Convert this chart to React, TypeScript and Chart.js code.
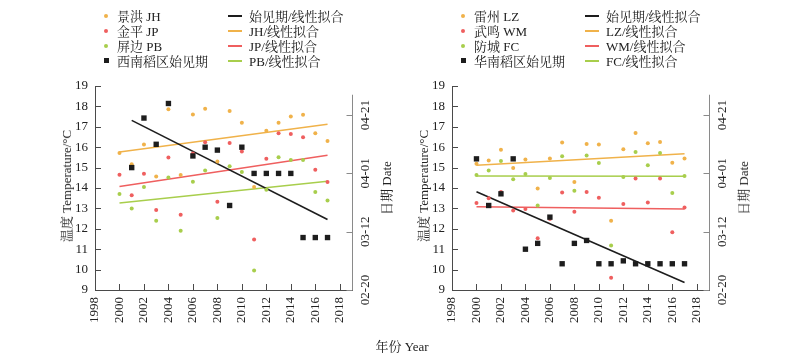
import React, { useEffect, useRef } from 'react';
import { Chart, registerables } from 'chart.js';

Chart.register(...registerables);

// ---------- data ----------
const years = [2000, 2001, 2002, 2003, 2004, 2005, 2006, 2007, 2008, 2009, 2010, 2011, 2012, 2013, 2014, 2015, 2016, 2017];
const xTickYears = [1998, 2000, 2002, 2004, 2006, 2008, 2010, 2012, 2014, 2016, 2018];
const tempTicks = [9, 10, 11, 12, 13, 14, 15, 16, 17, 18, 19];
// date axis: days after 02-20
const dateTickDays = [0, 20, 40, 60];
const dateTickLabels = ['02-20', '03-12', '04-01', '04-21'];

// Left panel (西南稻区)
const jhTemp = [15.72, 15.16, 16.13, 14.56, 17.86, 14.64, 17.6, 17.88, 15.3, 17.78, 17.2, 14.05, 16.81, 17.2, 17.51, 17.59, 16.68, 16.31];
const jpTemp = [14.65, 13.65, 14.7, 12.92, 15.5, 12.69, 15.69, 16.24, 13.32, 16.21, 15.79, 11.47, 15.43, 16.68, 16.65, 16.49, 14.9, 14.3];
const pbTemp = [13.71, 13.0, 14.05, 12.4, 14.51, 11.91, 14.31, 14.86, 12.53, 15.07, 14.78, 9.96, 13.91, 15.51, 15.37, 15.37, 13.81, 13.39];
const swOnsetDays = [null, 42, 59, 50, 64, null, 46, 49, 48, 29, 49, 40, 40, 40, 40, 18, 18, 18];
const swOnsetFitYears = [2001, 2017];
const swOnsetFit = [58.2, 24.2];
const tempFitYears = [2000, 2017];
const jhFit = [15.76, 17.12];
const jpFit = [14.07, 15.61];
const pbFit = [13.26, 14.33];

// Right panel (华南稻区)
const lzTemp = [15.19, 15.35, 15.87, 14.98, 15.4, 13.97, 15.45, 16.23, 14.3, 16.16, 16.13, 12.4, 15.9, 16.7, 16.19, 16.26, 15.24, 15.45];
const wmTemp = [13.27, 13.5, 13.81, 12.9, 12.97, 11.54, 12.48, 13.78, 12.84, 13.81, 13.52, 9.6, 13.21, 14.47, 13.29, 14.46, 11.83, 13.05];
const fcTemp = [14.64, 14.86, 15.32, 14.43, 14.69, 13.14, 14.49, 15.56, 13.86, 15.59, 15.22, 11.18, 14.54, 15.77, 15.12, 15.72, 13.76, 14.59];
const scOnsetDays = [45, 29, 33, 45, 14, 16, 25, 9, 16, 17, 9, 9, 10, 9, 9, 9, 9, 9];
const scOnsetFitYears = [2000, 2017];
const scOnsetFit = [33.7, 2.6];
const lzFit = [15.11, 15.68];
const wmFit = [13.08, 12.97];
const fcFit = [14.59, 14.58];

// ---------- styles ----------
const ORANGE = '#F0B24A';
const RED = '#EF5F5F';
const GREEN = '#A8CE4C';
const BLACK = '#1d1d1d';
const AXIS = '#4a4a4a';
const AXIS2 = '#8a8a8a';
const FONT = "'Liberation Serif', 'Noto Serif CJK SC', 'Noto Sans CJK SC', serif";
const RIGHT_AXIS_TOP = 67;

Chart.defaults.font.family = FONT;
Chart.defaults.font.size = 13;
Chart.defaults.color = '#222';

type Spec = {
  names: string[];
  onsetName: string;
  fitNames: string[];
  temps: number[][];
  onset: (number | null)[];
  onsetFitYears: number[];
  onsetFit: number[];
  fits: number[][];
};

const leftSpec: Spec = {
  names: ['景洪 JH', '金平 JP', '屏边 PB'],
  onsetName: '西南稻区始见期',
  fitNames: ['始见期/线性拟合', 'JH/线性拟合', 'JP/线性拟合', 'PB/线性拟合'],
  temps: [jhTemp, jpTemp, pbTemp],
  onset: swOnsetDays,
  onsetFitYears: swOnsetFitYears,
  onsetFit: swOnsetFit,
  fits: [jhFit, jpFit, pbFit],
};

const rightSpec: Spec = {
  names: ['雷州 LZ', '武鸣 WM', '防城 FC'],
  onsetName: '华南稻区始见期',
  fitNames: ['始见期/线性拟合', 'LZ/线性拟合', 'WM/线性拟合', 'FC/线性拟合'],
  temps: [lzTemp, wmTemp, fcTemp],
  onset: scOnsetDays,
  onsetFitYears: scOnsetFitYears,
  onsetFit: scOnsetFit,
  fits: [lzFit, wmFit, fcFit],
};

const COLORS = [ORANGE, RED, GREEN];

const pts = (xs: number[], vals: (number | null)[]) =>
  xs.map((x, i) => ({ x, y: vals[i] })).filter((d) => d.y !== null);

const inwardTicks = {
  id: 'inwardTicks',
  afterDraw(chart: any) {
    const { ctx, chartArea, scales } = chart;
    const { right, bottom, left } = chartArea;
    const line = (x1: number, y1: number, x2: number, y2: number) => {
      ctx.beginPath();
      ctx.moveTo(x1, y1);
      ctx.lineTo(x2, y2);
      ctx.stroke();
    };
    ctx.save();
    ctx.lineWidth = 1;
    ctx.strokeStyle = AXIS;
    scales.x.ticks.forEach((t: any) => {
      const px = Math.round(scales.x.getPixelForValue(t.value)) + 0.5;
      line(px, bottom, px, bottom - 6);
    });
    scales.y.ticks.forEach((t: any) => {
      const py = Math.round(scales.y.getPixelForValue(t.value)) + 0.5;
      line(left, py, left + 6, py);
    });
    ctx.strokeStyle = AXIS2;
    const rx = Math.round(right) + 0.5;
    line(rx, scales.y2.getPixelForValue(RIGHT_AXIS_TOP), rx, bottom);
    scales.y2.ticks.forEach((t: any) => {
      const py = Math.round(scales.y2.getPixelForValue(t.value)) + 0.5;
      line(rx, py, rx - 6, py);
    });
    ctx.restore();
  },
};

function Panel({ spec, left, padLeft, padRight }: { spec: Spec; left: number; padLeft: number; padRight: number }) {
  const ref = useRef<HTMLCanvasElement | null>(null);
  useEffect(() => {
    if (!ref.current) return;
    const datasets: any[] = [];
    datasets.push({
      label: spec.onsetName,
      data: pts(years, spec.onset),
      yAxisID: 'y2',
      showLine: false,
      pointStyle: 'rect',
      pointRadius: 3.8,
      backgroundColor: BLACK,
      borderColor: BLACK,
      borderWidth: 0,
    });
    spec.temps.forEach((vals, i) => {
      datasets.push({
        label: spec.names[i],
        data: pts(years, vals),
        yAxisID: 'y',
        showLine: false,
        pointRadius: 2,
        backgroundColor: COLORS[i],
        borderColor: COLORS[i],
        borderWidth: 0,
      });
    });
    datasets.push({
      label: spec.fitNames[0],
      data: pts(spec.onsetFitYears, spec.onsetFit),
      yAxisID: 'y2',
      showLine: true,
      pointRadius: 0,
      borderColor: BLACK,
      borderWidth: 1.6,
    });
    spec.fits.forEach((vals, i) => {
      datasets.push({
        label: spec.fitNames[i + 1],
        data: pts(tempFitYears, vals),
        yAxisID: 'y',
        showLine: true,
        pointRadius: 0,
        borderColor: COLORS[i],
        borderWidth: 1.5,
      });
    });

    const chart = new Chart(ref.current, {
      type: 'scatter',
      data: { datasets },
      options: {
        responsive: false,
        animation: false,
        devicePixelRatio: 1,
        layout: { padding: { left: padLeft, right: padRight, top: 86, bottom: 0 } },
        plugins: { legend: { display: false }, tooltip: { enabled: false } },
        scales: {
          x: {
            type: 'linear',
            min: 1998,
            max: 2019,
            afterBuildTicks: (s: any) => {
              s.ticks = xTickYears.map((v) => ({ value: v }));
            },
            afterFit: (s: any) => {
              s.height = 72;
            },
            ticks: {
              minRotation: 90,
              maxRotation: 90,
              autoSkip: false,
              padding: 7,
              callback: (v: any) => String(v),
            },
            grid: { display: true, drawOnChartArea: false, drawTicks: false },
            border: { display: true, color: AXIS, width: 1 },
          },
          y: {
            type: 'linear',
            position: 'left',
            min: 9,
            max: 19,
            afterBuildTicks: (s: any) => {
              s.ticks = tempTicks.map((v) => ({ value: v }));
            },
            afterFit: (s: any) => {
              s.width = 33;
            },
            ticks: { padding: 7, callback: (v: any) => String(v) },
            grid: { display: true, drawOnChartArea: false, drawTicks: false },
            border: { display: true, color: AXIS, width: 1 },
          },
          y2: {
            type: 'linear',
            position: 'right',
            min: 0,
            max: 70,
            afterBuildTicks: (s: any) => {
              s.ticks = dateTickDays.map((v) => ({ value: v }));
            },
            afterFit: (s: any) => {
              s.width = 48;
            },
            ticks: {
              minRotation: 90,
              maxRotation: 90,
              crossAlign: 'center',
              padding: -2,
              callback: (_v: any, i: number) => dateTickLabels[i],
            },
            grid: { display: true, drawOnChartArea: false, drawTicks: false },
            border: { display: false },
          },
        },
      } as any,
      plugins: [inwardTicks],
    });
    return () => chart.destroy();
  }, [spec, padLeft, padRight]);

  const rowY = [16, 31, 45.5, 60.5];
  const dotX = left + 106;
  const textX = left + 117;
  const lineX = left + 228;
  const lineTextX = left + 249;
  const markers = [...COLORS.map((c) => ({ c, sq: false })), { c: BLACK, sq: true }];
  const labels = [...spec.names, spec.onsetName];
  const lineColors = [BLACK, ...COLORS];
  const txt: React.CSSProperties = {
    position: 'absolute',
    fontSize: 13,
    lineHeight: '15px',
    color: '#222',
    whiteSpace: 'nowrap',
    transform: 'translateY(-50%)',
  };

  return (
    <>
      <canvas
        ref={ref}
        width={400}
        height={362}
        style={{ position: 'absolute', left, top: 0, width: 400, height: 362 }}
      />
      {labels.map((lab, i) => (
        <React.Fragment key={'l' + i}>
          <div
            style={{
              position: 'absolute',
              left: dotX - (markers[i].sq ? 2.5 : 2),
              top: rowY[i] - (markers[i].sq ? 2.5 : 2),
              width: markers[i].sq ? 5 : 4,
              height: markers[i].sq ? 5 : 4,
              borderRadius: markers[i].sq ? 0 : 2,
              background: markers[i].c,
            }}
          />
          <div style={{ ...txt, left: textX, top: rowY[i] }}>{lab}</div>
        </React.Fragment>
      ))}
      {spec.fitNames.map((lab, i) => (
        <React.Fragment key={'f' + i}>
          <div
            style={{
              position: 'absolute',
              left: lineX,
              top: rowY[i] - 1,
              width: 14,
              height: 2,
              background: lineColors[i],
            }}
          />
          <div style={{ ...txt, left: lineTextX, top: rowY[i] }}>{lab}</div>
        </React.Fragment>
      ))}
      <div
        style={{
          position: 'absolute',
          left: left + 67,
          top: 186,
          fontSize: 13,
          lineHeight: '14px',
          color: '#222',
          whiteSpace: 'nowrap',
          transform: 'translate(-50%, -50%) rotate(-90deg)',
        }}
      >
        温度 Temperature/°C
      </div>
      <div
        style={{
          position: 'absolute',
          left: left + 387,
          top: 188,
          fontSize: 13,
          lineHeight: '14px',
          color: '#222',
          whiteSpace: 'nowrap',
          transform: 'translate(-50%, -50%) rotate(-90deg)',
        }}
      >
        日期 Date
      </div>
    </>
  );
}

export default function App() {
  return (
    <div
      style={{
        position: 'absolute',
        left: 0,
        top: 0,
        width: 800,
        height: 362,
        background: '#fff',
        fontFamily: FONT,
        overflow: 'hidden',
      }}
    >
      <Panel spec={leftSpec} left={0} padLeft={62} padRight={0} />
      <Panel spec={rightSpec} left={357} padLeft={62} padRight={0} />
      <div
        style={{
          position: 'absolute',
          left: 402,
          top: 345,
          fontSize: 13,
          color: '#222',
          whiteSpace: 'nowrap',
          transform: 'translate(-50%, -50%)',
        }}
      >
        年份 Year
      </div>
    </div>
  );
}
